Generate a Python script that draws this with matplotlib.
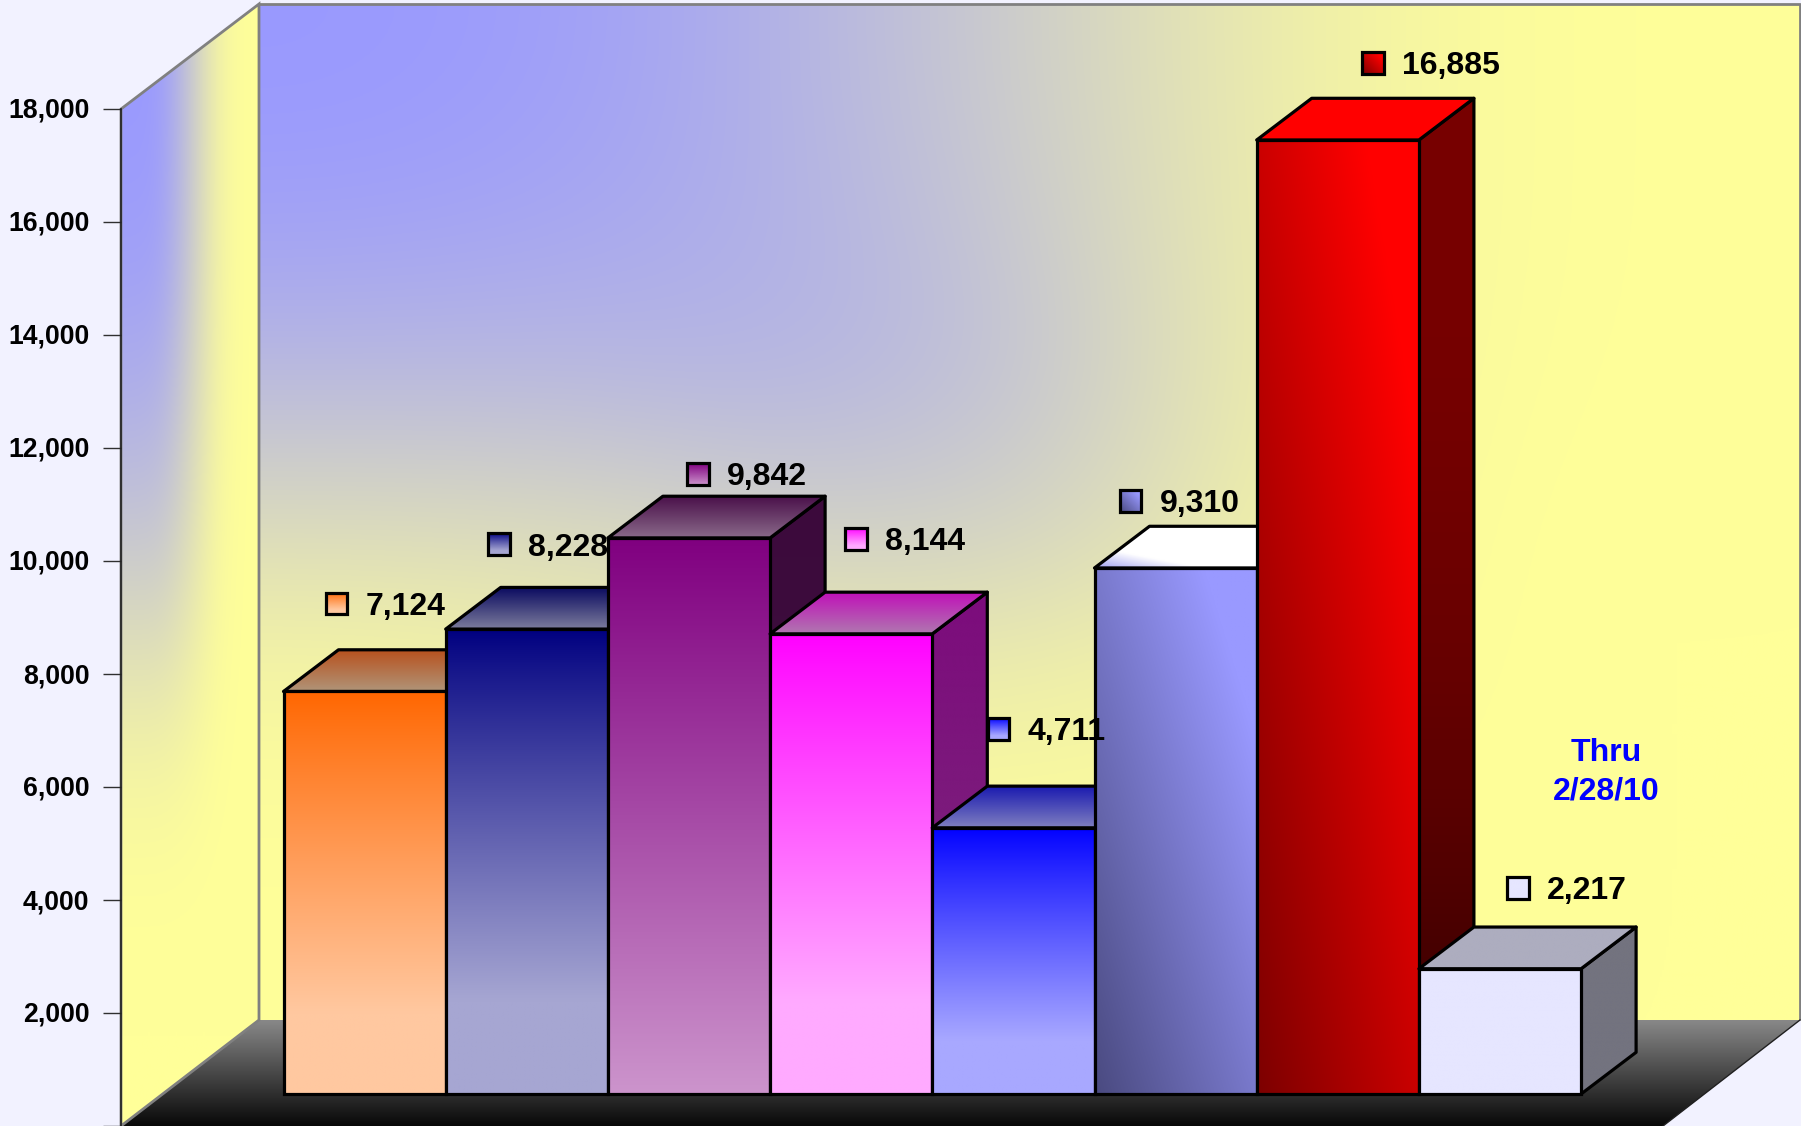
import numpy as np
import matplotlib
matplotlib.use("Agg")
import matplotlib.pyplot as plt
from matplotlib.colors import to_rgb
from matplotlib.patches import Polygon, Rectangle

plt.rcParams['font.family'] = ['Liberation Sans', 'DejaVu Sans']

# ---- data ----
values = [7124, 8228, 9842, 8144, 4711, 9310, 16885, 2217]
value_labels = ['7,124', '8,228', '9,842', '8,144', '4,711', '9,310', '16,885', '2,217']
y_ticks = [0, 2000, 4000, 6000, 8000, 10000, 12000, 14000, 16000, 18000]
y_tick_labels = ['', '2,000', '4,000', '6,000', '8,000', '10,000', '12,000', '14,000', '16,000', '18,000']
note = 'Thru\n2/28/10'

# ---- styles ----
front = [('#ff6600', '#ffc8a0', 'f'), ('#000080', '#a6a6d2', 'f'), ('#800080', '#cc94cc', 'v'),
         ('#ff00ff', '#ffaaff', 'f'), ('#0000ff', '#a8a8ff', 'f'), ('#4a4a80', '#9999ff', 'd'),
         ('#7c0000', '#ff0000', 'd'), ('#e6e6ff', '#e6e6ff', 'v')]
top = [('#b8501c', '#b09478', 'v'), ('#0a0a60', '#7c7c9c', 'v'), ('#4a104a', '#8a6a8a', 'v'),
       ('#c010b8', '#b078b0', 'v'), ('#1a1ab0', '#8080c0', 'v'), ('#a0a0f0', '#ffffff', 'dd'),
       ('#ff0000', '#ff0000', 'v'), ('#adadbf', '#adadbf', 'v')]
side = [('#803000', '#804000', 'v'), ('#000040', '#505070', 'v'), ('#3c0a3c', '#3e143e', 'v'),
        ('#7c0c7c', '#7c2c7c', 'v'), ('#000080', '#505080', 'v'), ('#4c4c80', '#4c4c80', 'v'),
        ('#780000', '#300000', 's'), ('#73737f', '#73737f', 'v')]
label_dx = [-28, -28, 9, 5, -15, -45, 35, 18]      # px from bar centre
label_dy = [88, 85, 64, 95, 99, 67, 77, 81]        # px above the bar top

W, H = 1801, 1126
BAR_L, BAR_W = 283.5, 162.2      # px of first bar, bar width
BASE_Y, PX_PER_V = 1094.0, 0.0565
DEPTH_X, DEPTH_Y = 55 / BAR_W, 41.7 / PX_PER_V
PX_X, PX_Y = 1 / BAR_W, 1 / PX_PER_V
EDGE = 2.3

BLUE = np.array(to_rgb('#9999ff'))
YEL = np.array(to_rgb('#ffff99'))

fig = plt.figure(figsize=(W / 100, H / 100), dpi=100, facecolor='#f2f2ff')

# ---- frame (walls and floor) in pixel space ----
bg = fig.add_axes([0, 0, 1, 1], zorder=0)
bg.set_xlim(0, W)
bg.set_ylim(H, 0)
bg.axis('off')


def field(t):
    t = np.asarray(t)[..., None]
    return BLUE * (1 - t) + YEL * t


back_t = [[0, .07, .28, .52, .80, .97, 1],
          [.08, .13, .25, .48, .80, .97, 1],
          [.30, .30, .24, .42, .80, .98, 1],
          [.62, .60, .50, .52, .82, 1, 1],
          [.90, .85, .80, .80, .90, 1, 1],
          [.98, .97, .95, .95, .97, 1, 1],
          [1, 1, 1, 1, 1, 1, 1]]
im = bg.imshow(field(back_t), extent=(259, 1800, 1020, 4), aspect='auto',
               interpolation='bicubic', zorder=1)
left_t = [[0, .02, .45, .9, 1],
          [.05, .06, .45, .9, 1],
          [.22, .25, .55, .92, 1],
          [.50, .50, .70, .95, 1],
          [.85, .85, .90, .98, 1],
          [1, 1, 1, 1, 1],
          [1, 1, 1, 1, 1]]
lw_poly = Polygon([(121, 109), (259, 4), (259, 1020), (121, 1126)], closed=True,
                  fc='none', ec='#808080', lw=2.0, zorder=3)
bg.add_patch(lw_poly)
im2 = bg.imshow(field(left_t), extent=(121, 259, 1126, 0), aspect='auto',
                interpolation='bicubic', zorder=1)
im2.set_clip_path(lw_poly)

floor = Polygon([(121, 1126), (259, 1020), (1800, 1020), (1663, 1126)], closed=True,
                fc='none', ec='none', zorder=3)
bg.add_patch(floor)
ramp = np.linspace(0x88 / 255, 0x08 / 255, 128)[:, None].repeat(3, axis=1)[:, None, :]
im3 = bg.imshow(ramp, extent=(121, 1800, 1126, 1020), aspect='auto',
                interpolation='bilinear', zorder=2)
im3.set_clip_path(floor)
bg.plot([259, 1800, 1800], [4, 4, 1020], color='#808080', lw=2.0, zorder=4, solid_capstyle='butt')
bg.plot([1800, 1663], [1020, 1126], color='#202020', lw=1.0, zorder=4)
bg.set_xlim(0, W)
bg.set_ylim(H, 0)

# ---- chart axes: x = bar index, y = value on the front plane ----
ax = fig.add_axes([0, 0, 1, 1], zorder=1)
ax.patch.set_visible(False)
ax.axis('off')
xlim = (-BAR_L / BAR_W, (W - BAR_L) / BAR_W)
ylim = ((BASE_Y - H) / PX_PER_V, BASE_Y / PX_PER_V)
ax.set_autoscale_on(False)
ax.set_xlim(xlim)
ax.set_ylim(ylim)


def gradient_fill(patch, c0, c1, mode, z):
    """Paint patch's bounding box with a gradient clipped to the patch."""
    verts = patch.get_path().vertices
    verts = patch.get_patch_transform().transform(verts)
    x0, y0 = verts.min(axis=0)
    x1, y1 = verts.max(axis=0)
    u, v = np.meshgrid(np.linspace(0, 1, 200), np.linspace(0, 1, 200))  # v=0 at top row
    if mode == 'v':
        t = v
    elif mode == 'f':       # front faces reach the light colour early
        t = np.clip(1.25 * v, 0, 1) ** 0.9
    elif mode == 's':       # stays dark red, then falls off
        t = v ** 2.5
    elif mode == 'd':       # c0 lower-left, c1 upper-right
        t = np.clip(1.2 * (u + (1 - v)) / 2, 0, 1)
    else:                   # quick diagonal
        t = np.clip(4.0 * (u + (1 - v)) / 2, 0, 1)
    a, b = np.array(to_rgb(c0)), np.array(to_rgb(c1))
    img = a * (1 - t[..., None]) + b * t[..., None]
    im_ = ax.imshow(img, extent=(x0, x1, y0, y1), origin='upper', aspect='auto',
                    interpolation='bilinear', zorder=z)
    im_.set_clip_path(patch)


z = 10
for i, v in enumerate(values):
    quad_top = [(i, v), (i + 1, v), (i + 1 + DEPTH_X, v + DEPTH_Y), (i + DEPTH_X, v + DEPTH_Y)]
    quad_side = [(i + 1, 0), (i + 1 + DEPTH_X, DEPTH_Y), (i + 1 + DEPTH_X, v + DEPTH_Y), (i + 1, v)]
    for quad, style in ((quad_side, side[i]), (quad_top, top[i])):
        p = Polygon(quad, closed=True, fc='none', ec='black', lw=EDGE, joinstyle='round', zorder=z + 1)
        ax.add_patch(p)
        gradient_fill(p, style[0], style[1], style[2], z)
        z += 2
    bar = ax.bar(i, v, width=1, align='edge', facecolor='none', edgecolor='black',
                 linewidth=EDGE, zorder=z + 1)[0]
    gradient_fill(bar, front[i][0], front[i][1], front[i][2], z)
    z += 2

# value labels with gradient colour keys
for i, v in enumerate(values):
    cx = i + 0.5 + label_dx[i] * PX_X
    cy = v + label_dy[i] * PX_Y
    sq = Rectangle((cx - 10.8 * PX_X, cy - 10.8 * PX_Y), 21.6 * PX_X, 21.6 * PX_Y,
                   fc='none', ec='black', lw=EDGE, zorder=z + 1)
    ax.add_patch(sq)
    gradient_fill(sq, front[i][0], front[i][1], front[i][2], z)
    ax.text(cx + 29 * PX_X, cy, value_labels[i], fontsize=23, fontweight='bold',
            color='black', ha='left', va='center_baseline', zorder=z + 2)
    z += 3

ax.text(1606.5 * PX_X + xlim[0], (BASE_Y - 772) * PX_Y, note, fontsize=23, fontweight='bold',
        color='#0000ff', ha='center', va='center', linespacing=1.36, zorder=z)
ax.set_xlim(xlim)
ax.set_ylim(ylim)

# ---- value axis on the left edge of the side wall ----
ay = fig.add_axes([0, 0, 120.5 / W, 1], zorder=2)
ay.patch.set_visible(False)
ay.set_xticks([])
ay.set_ylim(0, H / PX_PER_V)
ay.set_yticks(y_ticks)
ay.set_yticklabels(y_tick_labels)
for s in ('top', 'bottom', 'left'):
    ay.spines[s].set_visible(False)
ay.spines['right'].set_bounds(0, 18000)
ay.spines['right'].set_linewidth(1.2)
ay.spines['right'].set_color('#202020')
ay.spines['right'].set_zorder(5)
ay.yaxis.set_tick_params(left=False, right=False, labelleft=False)
for t_val, t_lab in zip(y_ticks, y_tick_labels):
    ay.plot([1 - 17.5 / 120.5, 1], [t_val, t_val], color='#303030', lw=1.0,
            transform=ay.get_yaxis_transform(), clip_on=False, solid_capstyle='butt')
    ay.annotate(t_lab, xy=(1, t_val), xycoords=ay.get_yaxis_transform(),
                xytext=(-31, 1), textcoords='offset pixels', fontsize=19.2, fontweight='bold',
                ha='right', va='center_baseline', color='black')

fig.savefig('out.png', dpi=100, facecolor=fig.get_facecolor())
